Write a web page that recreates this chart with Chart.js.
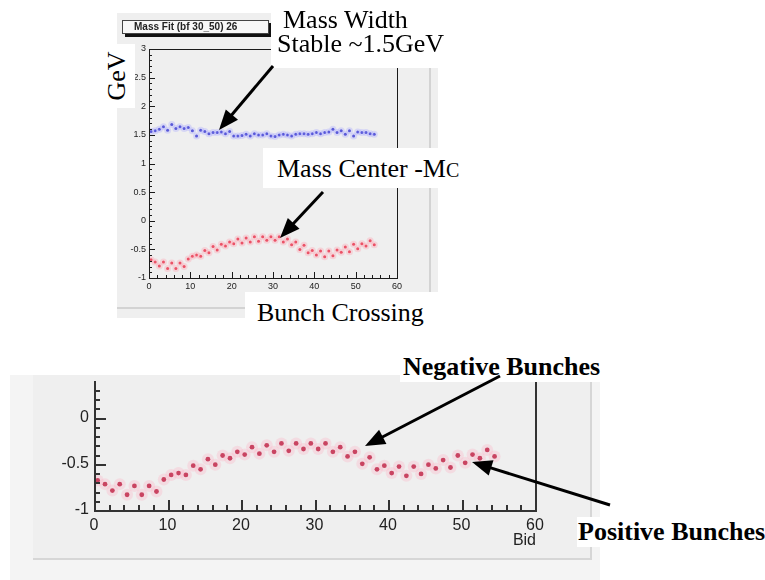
<!DOCTYPE html>
<html><head><meta charset="utf-8">
<script src="https://cdn.jsdelivr.net/npm/chart.js@4.4.1/dist/chart.umd.min.js"></script>
<style>
html,body{margin:0;padding:0;background:#fff;}
#root{position:relative;width:765px;height:580px;overflow:hidden;background:#fff;}
.abs{position:absolute;}
.tb{position:absolute;background:#fff;font-family:"Liberation Serif","Times New Roman",serif;color:#000;font-size:26px;line-height:1;white-space:nowrap;}
</style></head><body>
<div id="root">
  <!-- top ROOT pad -->
  <div class="abs" style="left:117px;top:13px;width:321px;height:305px;background:#efefef"></div>
  <div class="abs" style="left:429px;top:13px;width:2px;height:296px;background:#d3d3d3"></div>
  <div class="abs" style="left:117px;top:307px;width:314px;height:2px;background:#d3d3d3"></div>
  <canvas id="c1" class="abs" style="left:117px;top:13px;width:313px;height:296px" width="313" height="296"></canvas>
  <div class="abs" style="left:122px;top:20px;width:145px;height:12px;border:1px solid #444;background:#f7f7f7;box-shadow:3px 3px 0 #111;font:bold 10px 'Liberation Sans',Arial,sans-serif;line-height:12px;color:#222;text-indent:11px;white-space:nowrap;overflow:hidden">Mass Fit (bf 30_50) 26</div>

  <!-- bottom ROOT pad -->
  <div class="abs" style="left:10px;top:375px;width:590px;height:205px;background:#f4f4f4"></div>
  <div class="abs" style="left:33px;top:375px;width:557px;height:183px;background:#efefef"></div>
  <div class="abs" style="left:33px;top:558px;width:559px;height:2px;background:#d6d6d6"></div>
  <div class="abs" style="left:590px;top:375px;width:2px;height:185px;background:#d6d6d6"></div>
  <canvas id="c2" class="abs" style="left:10px;top:375px;width:588px;height:187px" width="588" height="187"></canvas>
  <div class="abs" style="left:500px;top:531px;width:36px;text-align:right;font:16px 'Liberation Sans',Arial,sans-serif;color:#222;line-height:18px">Bid</div>

  <!-- annotation text boxes -->
  <div class="tb" style="left:271px;top:0px;width:180px;height:68px;">
    <div style="position:absolute;left:12px;top:7px">Mass Width</div>
    <div style="position:absolute;left:6px;top:31px">Stable ~1.5GeV</div>
  </div>
  <div class="tb" style="left:100px;top:44px;width:35px;height:64px;">
    <div style="position:absolute;left:-9px;top:20px;width:50px;text-align:center;transform:rotate(-90deg);transform-origin:25px 12px">GeV</div>
  </div>
  <div class="tb" style="left:263px;top:148px;width:215px;height:40px;">
    <div style="position:absolute;left:14px;top:8px">Mass Center -M<span style="font-size:20px">C</span></div>
  </div>
  <div class="tb" style="left:245px;top:292px;width:195px;height:45px;">
    <div style="position:absolute;left:12px;top:8px">Bunch Crossing</div>
  </div>
  <div class="tb" style="left:400px;top:352px;font-weight:bold;padding:2px 3px">Negative Bunches</div>
  <div class="tb" style="left:577px;top:517px;font-weight:bold;padding:2px 1px">Positive Bunches</div>

  <svg id="arrows" class="abs" style="left:0;top:0" width="765" height="580"></svg>
</div>
<script>
// ---- data ----
const bunchIds = [0,1,2,3,4,5,6,7,8,9,10,11,12,13,14,15,16,17,18,19,20,21,22,23,24,25,26,27,28,29,30,31,32,33,34,35,36,37,38,39,40,41,42,43,44,45,46,47,48,49,50,51,52,53,54];
const massWidth = [1.56,1.57,1.60,1.64,1.58,1.68,1.61,1.64,1.61,1.63,1.57,1.48,1.58,1.56,1.52,1.54,1.54,1.55,1.52,1.56,1.48,1.48,1.49,1.51,1.48,1.52,1.50,1.50,1.52,1.48,1.47,1.50,1.51,1.50,1.48,1.51,1.52,1.52,1.51,1.52,1.54,1.52,1.54,1.55,1.60,1.54,1.57,1.51,1.57,1.48,1.55,1.54,1.54,1.52,1.51];
const massCenter = [-0.68,-0.72,-0.79,-0.72,-0.835,-0.74,-0.835,-0.74,-0.80,-0.67,-0.62,-0.60,-0.62,-0.52,-0.56,-0.45,-0.51,-0.41,-0.44,-0.37,-0.40,-0.32,-0.39,-0.30,-0.37,-0.28,-0.36,-0.28,-0.34,-0.28,-0.34,-0.28,-0.37,-0.32,-0.42,-0.37,-0.50,-0.43,-0.56,-0.52,-0.60,-0.53,-0.63,-0.53,-0.61,-0.51,-0.55,-0.46,-0.54,-0.41,-0.49,-0.40,-0.44,-0.35,-0.42];
const xTicksTop = [0,10,20,30,40,50,60];
const yTicksTop = [-1,-0.5,0,0.5,1,1.5,2,2.5,3];
const yTicksBottom = [-1,-0.5,0];

const pts = vals => vals.map((v,i) => ({x: bunchIds[i] + 0.5, y: v}));
const fmt = v => String(Math.round(v*10)/10);

// ROOT-like frame and inward ticks, drawn through the chart's own scales
function makeRootAxes(o) {
  return {
    id: 'rootAxes',
    afterDraw(chart) {
      const ctx = chart.ctx, a = chart.chartArea, x = chart.scales.x, y = chart.scales.y;
      const w = o.lw;
      ctx.save();
      ctx.fillStyle = o.color;
      const L = Math.round(a.left), R = Math.round(a.right), B = Math.round(a.bottom), T = Math.round(a.top);
      ctx.fillRect(L, T, w, B - T + w);
      ctx.fillRect(L, B, R - L + w, w);
      ctx.fillRect(R, T, w, B - T + w);
      if (o.topLine) ctx.fillRect(L, T, R - L + w, w);
      const k0 = Math.ceil(y.min / o.yMinor - 1e-6), k1 = Math.floor(y.max / o.yMinor + 1e-6);
      for (let k = k0; k <= k1; k++) {
        const v = k * o.yMinor;
        const major = Math.abs(v / o.yMajor - Math.round(v / o.yMajor)) < 1e-6;
        const py = Math.round(y.getPixelForValue(v));
        ctx.fillRect(L, py, major ? o.yMajLen : o.yMinLen, w);
      }
      const j0 = Math.ceil(x.min / o.xMinor - 1e-6), j1 = Math.floor(x.max / o.xMinor + 1e-6);
      for (let j = j0; j <= j1; j++) {
        const v = j * o.xMinor;
        const major = Math.abs(v / o.xMajor - Math.round(v / o.xMajor)) < 1e-6;
        const px = Math.round(x.getPixelForValue(v));
        const len = major ? o.xMajLen : o.xMinLen;
        ctx.fillRect(px, B - len, w, len);
      }
      ctx.restore();
    }
  };
}

function makeScales(cfg) {
  return {
    x: {
      type: 'linear', min: 0, max: 60,
      afterFit(s) { s.height = cfg.xH; s.paddingLeft = 0; s.paddingRight = 0; },
      afterBuildTicks(s) { s.ticks = cfg.xTicks.map(v => ({value: v})); },
      grid: {display: false, drawTicks: false}, border: {display: false},
      ticks: {padding: cfg.xPad, color: '#222', font: {family: 'Liberation Sans', size: cfg.fs}, maxRotation: 0, autoSkip: false, callback: fmt}
    },
    y: {
      type: 'linear', min: cfg.yMin, max: cfg.yMax,
      afterFit(s) { s.width = cfg.yW; s.paddingTop = 0; s.paddingBottom = 0; },
      afterBuildTicks(s) { s.ticks = cfg.yTicks.map(v => ({value: v})); },
      grid: {display: false, drawTicks: false}, border: {display: false},
      ticks: {padding: cfg.yPad, color: '#222', font: {family: 'Liberation Sans', size: cfg.fs}, autoSkip: false, callback: fmt}
    }
  };
}

const common = {responsive: false, animation: false, events: [], maintainAspectRatio: false};

new Chart(document.getElementById('c1'), {
  type: 'scatter',
  data: {datasets: [
    {data: pts(massWidth), pointRadius: 3.5, backgroundColor: 'rgba(170,170,255,0.35)', borderWidth: 0},
    {data: pts(massCenter), pointRadius: 3.5, backgroundColor: 'rgba(255,160,175,0.35)', borderWidth: 0},
    {data: pts(massWidth), pointRadius: 1.5, backgroundColor: '#2f2fc4', borderWidth: 0},
    {data: pts(massCenter), pointRadius: 1.5, backgroundColor: '#e02840', borderWidth: 0}
  ]},
  options: Object.assign({}, common, {
    layout: {padding: {left: 0, right: 33, top: 36, bottom: 0}},
    plugins: {legend: {display: false}, tooltip: {enabled: false}},
    scales: makeScales({xH: 31, yW: 32, yMin: -1, yMax: 3, fs: 9, xPad: 3, yPad: 3, xTicks: xTicksTop, yTicks: yTicksTop})
  }),
  plugins: [makeRootAxes({lw: 1, color: '#1a1a1a', topLine: true, yMinor: 0.1, yMajor: 0.5, yMajLen: 6, yMinLen: 3, xMinor: 2, xMajor: 10, xMajLen: 6, xMinLen: 3})]
});

new Chart(document.getElementById('c2'), {
  type: 'scatter',
  data: {datasets: [
    {data: pts(massCenter), pointRadius: 6, backgroundColor: 'rgba(255,170,190,0.28)', borderWidth: 0},
    {data: pts(massCenter), pointRadius: 2.4, backgroundColor: '#b41e3e', borderWidth: 0}
  ]},
  options: Object.assign({}, common, {
    layout: {padding: {left: 0, right: 63, top: 0, bottom: 0}},
    plugins: {legend: {display: false}, tooltip: {enabled: false}},
    scales: makeScales({xH: 52, yW: 84, yMin: -1, yMax: 0.396, fs: 16, xPad: 6, yPad: 5, xTicks: xTicksTop, yTicks: yTicksBottom})
  }),
  plugins: [makeRootAxes({lw: 2, color: '#333', topLine: false, yMinor: 0.1, yMajor: 0.5, yMajLen: 12, yMinLen: 6, xMinor: 2, xMajor: 10, xMajLen: 10, xMinLen: 5})]
});

// annotation arrows (tail x, tail y, tip x, tip y)
const arrowList = [[273,66,219,130],[323,192,280,238],[500,376,365,446],[610,505,472,462]];
const svg = document.getElementById('arrows');
const NS = 'http://www.w3.org/2000/svg';
arrowList.forEach(([x1,y1,x2,y2]) => {
  const dx = x2 - x1, dy = y2 - y1, len = Math.hypot(dx, dy), ux = dx/len, uy = dy/len;
  const hl = 20, hw = 8;
  const bx = x2 - ux*hl, by = y2 - uy*hl;
  const line = document.createElementNS(NS, 'line');
  line.setAttribute('x1', x1); line.setAttribute('y1', y1);
  line.setAttribute('x2', bx + ux*2); line.setAttribute('y2', by + uy*2);
  line.setAttribute('stroke', '#000'); line.setAttribute('stroke-width', '3');
  svg.appendChild(line);
  const poly = document.createElementNS(NS, 'polygon');
  poly.setAttribute('points', `${x2},${y2} ${bx - uy*hw},${by + ux*hw} ${bx + uy*hw},${by - ux*hw}`);
  poly.setAttribute('fill', '#000');
  svg.appendChild(poly);
});
</script>
</body></html>
